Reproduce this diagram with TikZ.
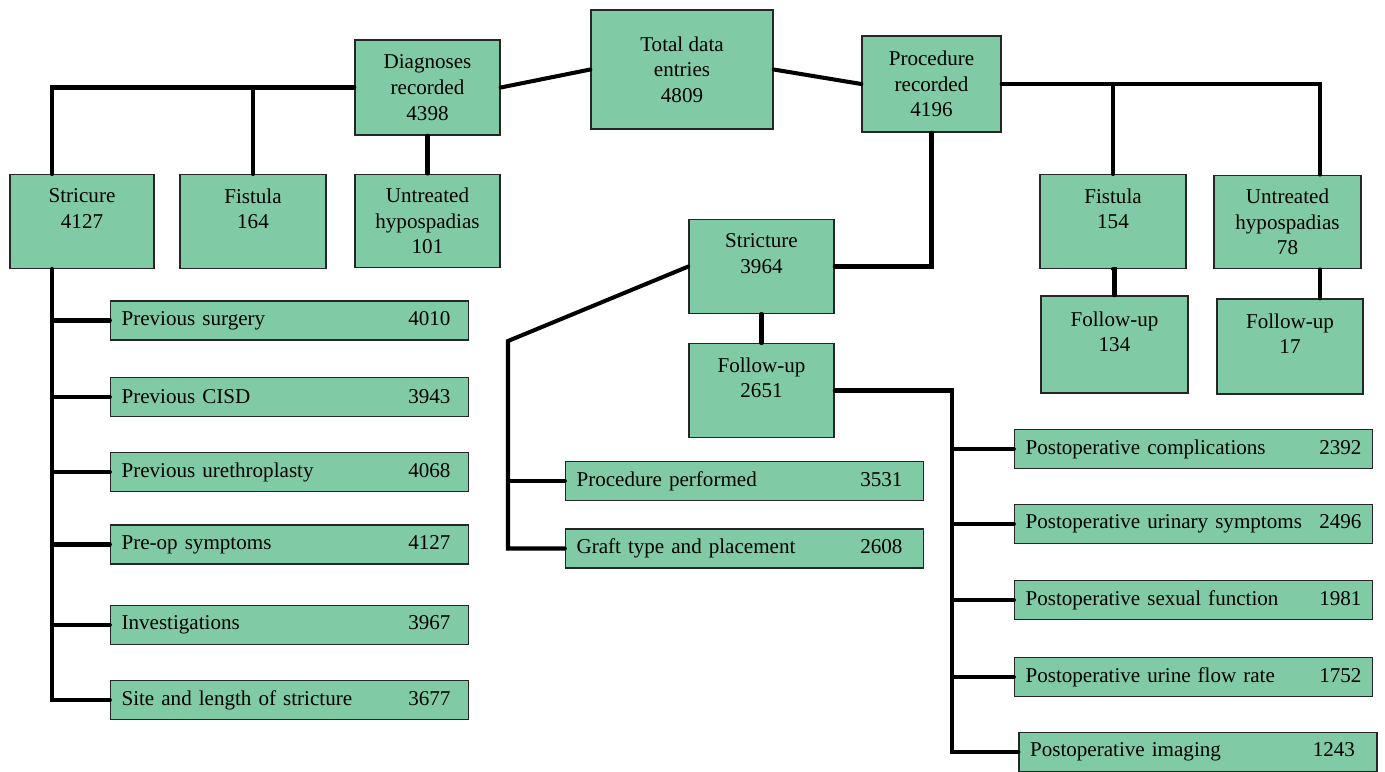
\documentclass[tikz,border=0pt]{standalone}
\usepackage{fontspec}
\setmainfont{Liberation Serif}
\definecolor{boxgreen}{HTML}{80CBA5}
\tikzset{
	box/.style={draw=black!85,line width=0.8pt,fill=boxgreen,align=center,inner sep=2pt,
		font=\fontsize{12}{14.6}\selectfont},
	tallbox/.style={box,minimum width=2.9cm,minimum height=1.87cm},
	rowbox/.style={box,minimum width=7.16cm,minimum height=0.78cm,inner xsep=0.22cm,
		text width=6.72cm,align=left},
	link/.style={line width=2.3pt,line cap=round,line join=miter}
}
\newcommand{\rowtext}[3][6.58cm]{\makebox[#1][l]{#2\hfill #3}}
\begin{document}
\begin{tikzpicture}[x=0.02cm,y=-0.02cm]
		\useasboundingbox (0,0) rectangle (1385,771);
		% top level
		\node[tallbox,minimum width=3.64cm,minimum height=2.38cm] (tot) at (682,69.5) {Total data\\entries\\4809};
		\node[tallbox,minimum height=1.9cm] (diag) at (427.5,87.5) {Diagnoses\\recorded\\4398};
		\node[tallbox,minimum width=2.78cm,minimum height=1.92cm] (proc) at (931.5,84) {Procedure\\recorded\\4196};
		% diagnoses
		\node[tallbox,minimum width=2.88cm] (stric) at (82,221.5) {Stricure\\4127\\~};
		\node[tallbox,minimum width=2.92cm] (fist) at (253,221.5) {Fistula\\164\\~};
		\node[tallbox] (untr) at (427.5,221) {Untreated\\hypospadias\\101};
		% procedures
		\node[tallbox] (strM) at (761.5,266.5) {Stricture\\3964\\~};
		\node[tallbox] (fuM) at (761.5,390.5) {Follow-up\\2651\\~};
		\node[tallbox,minimum width=2.92cm] (fistR) at (1113,221.5) {Fistula\\154\\~};
		\node[tallbox,minimum width=2.94cm] (untrR) at (1287.5,222) {Untreated\\hypospadias\\78};
		\node[tallbox,minimum width=2.94cm,minimum height=1.94cm] (fuF) at (1114.5,344.5) {Follow-up\\134\\~};
		\node[tallbox,minimum width=2.92cm,minimum height=1.9cm] (fuU) at (1290,346.5) {Follow-up\\17\\~};
		% stricture details
		\node[rowbox] (prevs) at (289.5,320.5) {\rowtext{Previous surgery}{4010}};
		\node[rowbox] (cisd) at (289.5,397) {\rowtext{Previous CISD}{3943}};
		\node[rowbox] (ureth) at (289.5,472) {\rowtext{Previous urethroplasty}{4068}};
		\node[rowbox] (preop) at (289.5,544.5) {\rowtext{Pre-op symptoms}{4127}};
		\node[rowbox] (invest) at (289.5,625) {\rowtext{Investigations}{3967}};
		\node[rowbox] (site) at (289.5,700) {\rowtext{Site and length of stricture}{3677}};
		\node[rowbox] (perf) at (744.5,481) {\rowtext[6.52cm]{Procedure performed}{3531}};
		\node[rowbox] (graft) at (744.5,548.5) {\rowtext[6.52cm]{Graft type and placement}{2608}};
		% follow-up details
		\node[rowbox] (compl) at (1193.5,449) {\rowtext[6.72cm]{Postoperative complications}{2392}};
		\node[rowbox] (urin) at (1193.5,524) {\rowtext[6.72cm]{Postoperative urinary symptoms}{2496}};
		\node[rowbox] (sex) at (1193.5,600) {\rowtext[6.72cm]{Postoperative sexual function}{1981}};
		\node[rowbox] (flow) at (1193.5,677) {\rowtext[6.72cm]{Postoperative urine flow rate}{1752}};
		\node[rowbox] (img) at (1198,752) {\rowtext[6.5cm]{Postoperative imaging}{1243}};
		% spines
		\coordinate (lspine) at (52,0);
		\coordinate (rspine) at (1320,0);
		\coordinate (mspine) at (508,341);
		\coordinate (qspine) at (952,0);
		% connectors
		\draw[link] (tot.west) -- (diag.east);
		\draw[link] (tot.east) -- (proc.west);
		\draw[link] (diag.west) -| (lspine |- stric.north);
		\draw[link] (fist.north) -- (fist.north |- diag.west);
		\draw[link] (diag.south) -- (untr.north);
		\draw[link] (lspine |- stric.south) |- (site.west);
		\foreach \n in {prevs,cisd,ureth,preop,invest}{
			\draw[link] (lspine |- \n.west) -- (\n.west);
		}
		\draw[link] (proc.east) -| (rspine |- untrR.north);
		\draw[link] (fistR.north) -- (fistR.north |- proc.east);
		\draw[link] (fistR.south) -- (fistR.south -| fuF.north) -- (fuF.north);
		\draw[link] (rspine |- untrR.south) -- (rspine |- fuU.north);
		\draw[link] (proc.south) |- (strM.east);
		\draw[link] (strM.west) -- (mspine) |- (graft.west);
		\draw[link] (mspine |- perf.west) -- (perf.west);
		\draw[link] (strM.south) -- (fuM.north);
		\draw[link] (fuM.east) -| (qspine |- img.west) -- (img.west);
		\foreach \n in {compl,urin,sex,flow}{
			\draw[link] (qspine |- \n.west) -- (\n.west);
		}
	\end{tikzpicture}
\end{document}
